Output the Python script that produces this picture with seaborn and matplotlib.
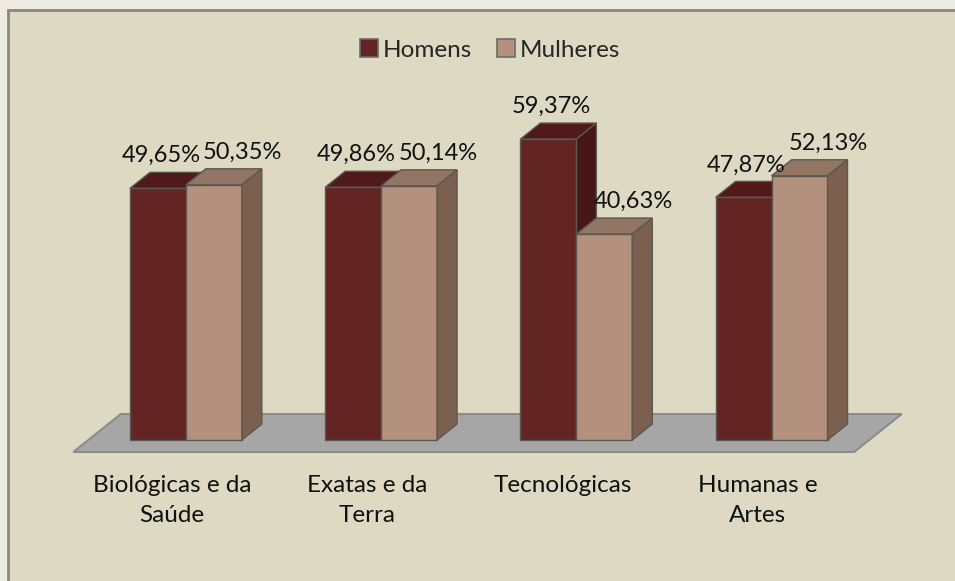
import pandas as pd
import seaborn as sns
import matplotlib.pyplot as plt
from matplotlib.patches import Polygon, Rectangle, Patch
from matplotlib.transforms import ScaledTranslation

# data
areas = ["Biológicas e da\nSaúde", "Exatas e da\nTerra", "Tecnológicas", "Humanas e\nArtes"]
series = ["Homens", "Mulheres"]
homens = [49.65, 49.86, 59.37, 47.87]
mulheres = [50.35, 50.14, 40.63, 52.13]

front_colors = {"Homens": "#632523", "Mulheres": "#b4917d"}
top_colors = {"Homens": "#4f1a19", "Mulheres": "#927563"}
side_colors = {"Homens": "#481616", "Mulheres": "#7b604f"}
edge = "#5c5753"

df = pd.DataFrame({
    "area": areas * 2,
    "sexo": ["Homens"] * len(areas) + ["Mulheres"] * len(areas),
    "pct": homens + mulheres,
})

sns.set_theme(style="white")
plt.rcParams["font.family"] = ["Lato", "DejaVu Sans"]

DPI = 100
fig = plt.figure(figsize=(9.55, 5.81), dpi=DPI, facecolor="#eeece1")
# chart panel
fig.patches.append(Rectangle((8 / 955, -0.05), 1.1, (581 - 10) / 581 + 0.05,
                             transform=fig.transFigure, facecolor="#ddd9c3",
                             edgecolor="#8a877e", linewidth=2, zorder=-5))

ax = fig.add_axes([0.0720, 0.2165, 0.8586, 0.6805])
ax.set_facecolor("none")

sns.barplot(data=df, x="area", y="pct", hue="sexo", palette=front_colors,
            width=0.573, saturation=1, edgecolor=edge, linewidth=1,
            legend=False, ax=ax)
ax.set_xlim(-0.6, 3.6)
ax.set_ylim(-3, 75)
fig.canvas.draw()

# depth vector of the 3D bars, in pixels -> data units
inv = ax.transData.inverted()
o = inv.transform(ax.transData.transform((0, 0)))
d = inv.transform(ax.transData.transform((0, 0)) + [20, 16]) - o
ddx, ddy = d

bars = [p for p in ax.patches if isinstance(p, Rectangle)]
keys = ["Homens"] * len(areas) + ["Mulheres"] * len(areas)
for p, key in zip(bars, keys):
    x0 = p.get_x()
    w = p.get_width()
    h = p.get_height()
    z_side = 2 if key == "Homens" else 3.5
    p.set_zorder(3)
    top = Polygon([(x0, h), (x0 + ddx, h + ddy), (x0 + w + ddx, h + ddy), (x0 + w, h)],
                  closed=True, facecolor=top_colors[key], edgecolor=edge, linewidth=1, zorder=z_side)
    side = Polygon([(x0 + w, 0), (x0 + w + ddx, ddy), (x0 + w + ddx, h + ddy), (x0 + w, h)],
                   closed=True, facecolor=side_colors[key], edgecolor=edge, linewidth=1, zorder=z_side)
    ax.add_patch(top)
    ax.add_patch(side)
    dx_lab = 3 if key == "Homens" else 29
    ax.annotate(f"{h:.2f}%".replace(".", ","), xy=(x0 + w / 2, h + ddy),
                xytext=(dx_lab, 10), textcoords="offset pixels",
                ha="center", va="baseline", fontsize=17, color="#111111", zorder=5)

# floor
f0, f1 = -0.75, 1.625
lo, hi = -0.5, len(areas) - 0.5
floor = Polygon([(lo + f0 * ddx, f0 * ddy), (hi + f0 * ddx, f0 * ddy),
                 (hi + f1 * ddx, f1 * ddy), (lo + f1 * ddx, f1 * ddy)],
                closed=True, facecolor="#a6a6a6", edgecolor="#8c8c8c", linewidth=1.5,
                zorder=1, clip_on=False)
ax.add_patch(floor)

for s in ax.spines.values():
    s.set_visible(False)
ax.set_yticks([])
ax.set_xlabel("")
ax.set_ylabel("")
ax.tick_params(axis="x", length=0, pad=14, labelsize=17.5, labelcolor="#111111")
for lab in ax.get_xticklabels():
    lab.set_linespacing(1.55)
    lab.set_transform(lab.get_transform() + ScaledTranslation(-14 / DPI, 0, fig.dpi_scale_trans))

handles = [Patch(facecolor=front_colors[s], edgecolor="#6b6b6b", linewidth=1.2) for s in series]
fig.legend(handles, series, loc="center", bbox_to_anchor=(0.513, 1 - 50 / 581),
           ncol=2, frameon=False, fontsize=17.5, handlelength=0.75, handleheight=0.75,
           handletextpad=0.2, columnspacing=1.0)

fig.savefig("out.png", dpi=DPI, facecolor=fig.get_facecolor())
